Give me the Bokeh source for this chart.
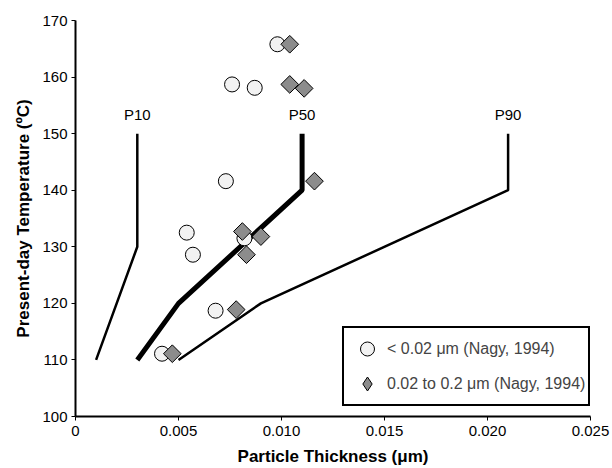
import math
from bokeh.plotting import figure
from bokeh.models import (Range1d, FixedTicker, CustomJSTickFormatter, Legend, LegendItem,
                          ColumnDataSource)
from bokeh.core.properties import value
from bokeh.embed import file_html
from bokeh.resources import INLINE

# ---- data ----
p10_x = [0.001, 0.003, 0.003]
p10_y = [110, 130, 150]
p50_x = [0.003, 0.005, 0.011, 0.011]
p50_y = [110, 120, 140, 150]
p90_x = [0.005, 0.009, 0.021, 0.021]
p90_y = [110, 120, 140, 150]
curve_labels = ["P10", "P50", "P90"]

fine_x = [0.0098, 0.0076, 0.0087, 0.0073, 0.0054, 0.0057, 0.0082, 0.0068, 0.0042]
fine_y = [165.8, 158.7, 158.1, 141.6, 132.5, 128.6, 131.5, 118.7, 111.1]
coarse_x = [0.0104, 0.0104, 0.0111, 0.0116, 0.0081, 0.0090, 0.0083, 0.0078, 0.0047]
coarse_y = [165.8, 158.7, 158.0, 141.6, 132.7, 131.8, 128.6, 118.9, 111.1]

x_ticks = [0, 0.005, 0.010, 0.015, 0.020, 0.025]
y_ticks = [100, 110, 120, 130, 140, 150, 160, 170]

FONT = "Liberation Sans"

p = figure(width=612, height=468, output_backend="svg", toolbar_location=None,
           x_range=Range1d(0, 0.025), y_range=Range1d(100, 170),
           min_border_left=75, min_border_right=22, min_border_top=20, min_border_bottom=52)
p.outline_line_color = None
p.xgrid.grid_line_color = None
p.ygrid.grid_line_color = None
p.background_fill_color = "white"
p.border_fill_color = "white"

for ax in (p.xaxis[0], p.yaxis[0]):
    ax.axis_line_color = "black"
    ax.axis_line_width = 2
    ax.major_tick_line_color = "black"
    ax.major_tick_line_width = 1
    ax.major_tick_in = 0
    ax.major_tick_out = 4
    ax.minor_tick_line_color = None
    ax.major_label_text_font = FONT
    ax.major_label_text_font_size = "15px"
    ax.major_label_text_color = "black"
    ax.axis_label_text_font = FONT
    ax.axis_label_text_font_size = "17px"
    ax.axis_label_text_font_style = "bold"
    ax.axis_label_text_color = "black"

p.xaxis[0].ticker = FixedTicker(ticks=x_ticks)
p.xaxis[0].formatter = CustomJSTickFormatter(code="return tick == 0 ? '0' : tick.toFixed(3);")
p.yaxis[0].ticker = FixedTicker(ticks=y_ticks)
p.xaxis[0].axis_label = "Particle Thickness (\u03bcm)"
p.yaxis[0].axis_label = "Present-day Temperature (\u00baC)"
p.xaxis[0].major_label_standoff = 5
p.xaxis[0].axis_label_standoff = 8
p.yaxis[0].major_label_standoff = 4
p.yaxis[0].axis_label_standoff = 6

# percentile curves
p.line(p10_x, p10_y, line_color="black", line_width=2.5)
p.line(p50_x, p50_y, line_color="black", line_width=5)
p.line(p90_x, p90_y, line_color="black", line_width=2.5)

lab_src = ColumnDataSource(dict(x=[p10_x[-1], p50_x[-1], p90_x[-1]],
                                y=[p10_y[-1], p50_y[-1], p90_y[-1]],
                                t=curve_labels))
p.text(x="x", y="y", text="t", source=lab_src, text_align="center",
       text_baseline="bottom", y_offset=-11, text_font=value(FONT),
       text_font_size="15px", text_color="black")

r_fine = p.scatter(fine_x, fine_y, marker="circle", size=15, fill_color="#f2f2f2",
                   line_color="black", line_width=1)
r_coarse = p.scatter(coarse_x, coarse_y, marker="square", size=12.5, angle=math.pi / 4,
                     fill_color="#8c8c8c", line_color="black", line_width=1)
# legend swatch for the diamonds (legend glyphs are never rotated); NaN point is not drawn
r_coarse_key = p.scatter([float("nan")], [float("nan")], marker="diamond", size=12.5,
                         fill_color="#8c8c8c", line_color="black", line_width=1)

legend = Legend(items=[LegendItem(label="< 0.02 \u03bcm (Nagy, 1994)", renderers=[r_fine], index=0),
                       LegendItem(label="0.02 to 0.2 \u03bcm (Nagy, 1994)", renderers=[r_coarse_key], index=0)],
                location=(267, 10), margin=0, padding=3, spacing=0,
                glyph_height=35, glyph_width=40, label_standoff=-2,
                label_text_font=FONT, label_text_font_size="16px",
                border_line_color="black", border_line_width=2, border_line_alpha=1,
                background_fill_color="white", background_fill_alpha=1)
p.add_layout(legend, "center")

open("out.html", "w").write(file_html(p, INLINE))
